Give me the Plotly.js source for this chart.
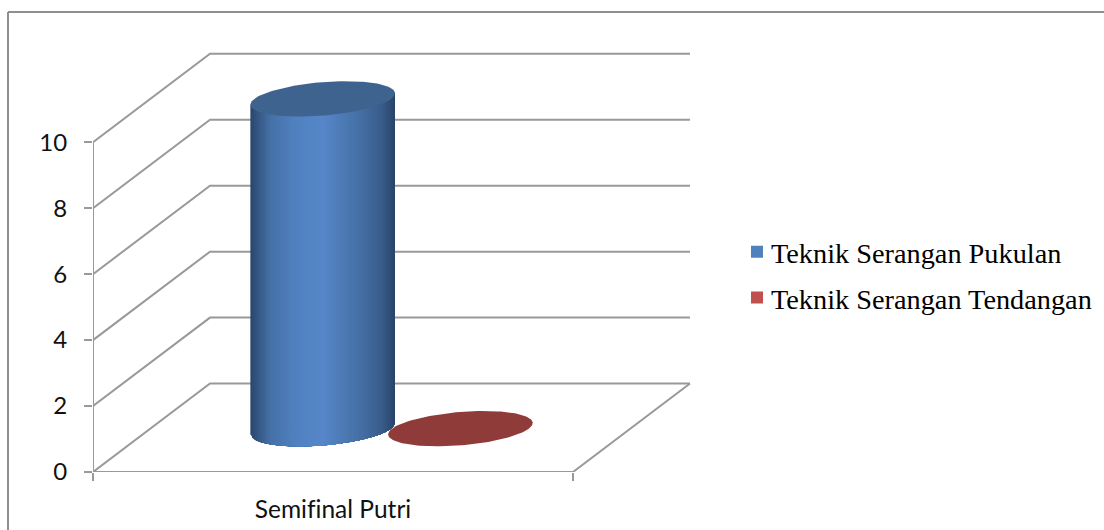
<!DOCTYPE html>
<html>
<head>
<meta charset="utf-8">
<script src="https://cdn.plot.ly/plotly-3.0.1.min.js"></script>
<style>
html,body{margin:0;padding:0;background:#fff;overflow:hidden}
#chart{width:1104px;height:530px}
#chart text{font-variant-ligatures:none !important;font-feature-settings:"liga" 0 !important}
</style>
</head>
<body>
<div id="chart"></div>
<script>
const categories = ['Semifinal Putri'];
const seriesNames = ['Teknik Serangan Pukulan', 'Teknik Serangan Tendangan'];
const pukulanValues = [10];
const tendanganValues = [0];
const yTicks = [0, 2, 4, 6, 8, 10];

// Oblique projection of the 3-D box onto the flat axes.
const frontWidthPx = 480, unitPx = 33;
const depthX = 117 / frontWidthPx;
const depthY = 88.5 / unitPx;
const project = (x, val, d) => [x + d * depthX, val + d * depthY];

const LINE = '#999999';
const LINE_W = 2;
const xEnd = 1.25, yEnd = 12.797;
const traces = [];

function addLine(pts) {
  traces.push({
    type: 'scatter', mode: 'lines', showlegend: false, hoverinfo: 'skip',
    x: pts.map(p => p[0]), y: pts.map(p => p[1]),
    line: { color: LINE, width: LINE_W }, cliponaxis: false
  });
}

// Walls and floor of the box
yTicks.forEach(v => addLine([project(0, v, 0), project(0, v, 1), project(1, v, 1)]));
addLine([project(0, 0, 0), project(0, yTicks[yTicks.length - 1], 0)]);
addLine([project(0, 0, 0), project(1, 0, 0), project(1, 0, 1)]);

// Cylinder cross-section in data units
const radiusX = 0.1425, radiusDepth = 0.2, rowDepth = 0.49;
const slots = [0.359, 0.646];

function ringPoint(cx, val, t) {
  return project(cx + radiusX * Math.cos(t), val, rowDepth + radiusDepth * Math.sin(t));
}

function addEllipse(cx, val, color) {
  const xs = [], ys = [];
  for (let i = 0; i <= 144; i++) {
    const p = ringPoint(cx, val, i / 144 * 2 * Math.PI);
    xs.push(p[0]); ys.push(p[1]);
  }
  traces.push({
    type: 'scatter', mode: 'lines', x: xs, y: ys, fill: 'toself', fillcolor: color,
    line: { color: color, width: 0 }, showlegend: false, hoverinfo: 'skip'
  });
}

const shadeStops = [
  [0.00, [41, 70, 108]], [0.05, [52, 86, 130]], [0.14, [69, 113, 167]], [0.30, [80, 128, 190]],
  [0.50, [86, 135, 201]], [0.62, [78, 124, 184]], [0.78, [68, 109, 161]], [0.90, [58, 94, 140]], [1.00, [41, 68, 104]]
];
function shade(u) {
  let i = 0;
  while (i < shadeStops.length - 2 && u > shadeStops[i + 1][0]) i++;
  const [u0, c0] = shadeStops[i], [u1, c1] = shadeStops[i + 1];
  const k = (u - u0) / (u1 - u0);
  const c = c0.map((v, j) => Math.round(v + (c1[j] - v) * k));
  return `rgb(${c[0]},${c[1]},${c[2]})`;
}

function addCylinder(cx, val, capColor) {
  if (val > 0) {
    const tilt = Math.atan2(radiusDepth * depthX, radiusX);
    const strips = 90;
    for (let i = 0; i < strips; i++) {
      // Each band runs on to the right silhouette, so the next one paints over it without seams.
      const bottom = [], top = [];
      for (let j = i; j <= strips; j += j === strips ? 1 : Math.min(3, strips - j)) {
        const t = tilt - Math.acos(2 * (j / strips) - 1);
        bottom.push(ringPoint(cx, 0, t));
        top.unshift(ringPoint(cx, val, t));
      }
      const pts = bottom.concat(top);
      pts.push(pts[0]);
      const col = shade((i + 0.5) / strips);
      traces.push({
        type: 'scatter', mode: 'lines', fill: 'toself', fillcolor: col,
        x: pts.map(p => p[0]), y: pts.map(p => p[1]),
        line: { color: col, width: 0 }, showlegend: false, hoverinfo: 'skip'
      });
    }
  }
  addEllipse(cx, val, capColor);
}

addCylinder(slots[1], tendanganValues[0], '#8f3b39');
addCylinder(slots[0], pukulanValues[0], '#3f638f');

// Legend keys
[['#4f81bd', 0], ['#c0504d', 1]].forEach(([color, i]) => {
  traces.push({
    type: 'scatter', mode: 'markers', name: seriesNames[i], legendgroup: seriesNames[i],
    x: [null], y: [null], marker: { symbol: 'square', size: 14, color: color }
  });
});

const L = 93, T = 50, B = 57.7, W = 600, H = 530 - T - B;
const layout = {
  width: 1104, height: 530,
  margin: { l: L, t: T, b: B, r: 1104 - L - W, pad: 0, autoexpand: false },
  paper_bgcolor: '#fff', plot_bgcolor: 'rgba(0,0,0,0)',
  showlegend: true,
  font: { family: 'Lato, sans-serif', color: '#000' },
  xaxis: {
    range: [0, xEnd], showgrid: false, zeroline: false, showline: false,
    tickmode: 'array', tickvals: [0.5], ticktext: categories, ticks: '', ticklen: 0,
    minor: { tickmode: 'array', tickvals: [0, 1], ticks: 'outside', ticklen: 8, tickcolor: LINE, tickwidth: LINE_W, showgrid: false },
    ticklabelstandoff: 20, tickfont: { family: 'Lato, sans-serif', size: 24.5, color: '#111' }, fixedrange: true
  },
  yaxis: {
    range: [0, yEnd], showgrid: false, zeroline: false, showline: false,
    tickmode: 'array', tickvals: yTicks, ticks: 'outside', ticklen: 8, tickcolor: LINE, tickwidth: LINE_W,
    ticklabelstandoff: 12, tickfont: { family: 'Lato, sans-serif', size: 24, color: '#111' }, fixedrange: true
  },
  legend: {
    x: (731 - L) / W, xanchor: 'left', y: (530 - B - 275) / H, yanchor: 'middle',
    font: { family: '"Liberation Serif", serif', size: 28.3, color: '#000' },
    bgcolor: 'rgba(0,0,0,0)', tracegroupgap: 6, itemsizing: 'constant'
  },
  shapes: [
    { type: 'line', xref: 'paper', yref: 'paper', x0: (8 - L) / W, x1: (8 - L) / W, y0: (530 - B - 12) / H, y1: (530 - B - 540) / H, line: { color: '#8f8f8f', width: 2 } },
    { type: 'line', xref: 'paper', yref: 'paper', x0: (8 - L) / W, x1: (1110 - L) / W, y0: (530 - B - 12) / H, y1: (530 - B - 12) / H, line: { color: '#8f8f8f', width: 2 } }
  ]
};
Plotly.newPlot('chart', traces, layout, { staticPlot: true, displayModeBar: false }).then(() => {
  // Sit the legend keys closer to their labels than the library's fixed gap.
  document.querySelectorAll('#chart .legend .legendsymbols').forEach(g => g.setAttribute('transform', 'translate(6,0)'));
});
</script>
</body>
</html>
